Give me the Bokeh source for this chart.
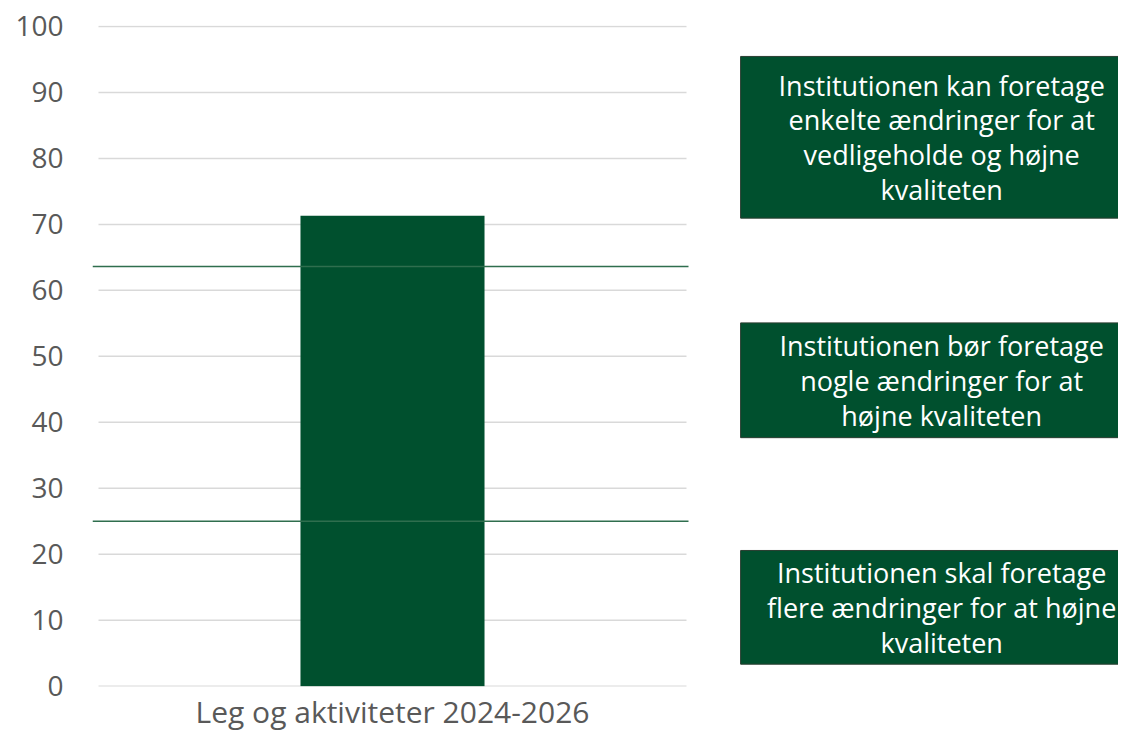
from bokeh.plotting import figure
from bokeh.models import Range1d, FixedTicker
from bokeh.core.properties import value
from bokeh.embed import file_html
from bokeh.resources import INLINE

# ---- data ----
categories = ["Leg og aktiviteter 2024-2026"]
scores = [71.3]
threshold_values = [25.0, 63.6]
y_ticks = [0, 10, 20, 30, 40, 50, 60, 70, 80, 90, 100]
zone_texts = [
    "Institutionen kan foretage\nenkelte ændringer for at\nvedligeholde og højne\nkvaliteten",
    "Institutionen bør foretage\nnogle ændringer for at\nhøjne kvaliteten",
    "Institutionen skal foretage\nflere ændringer for at højne\nkvaliteten",
]

# ---- layout constants (positions / styles) ----
GREEN = "#00502E"
FONT = "Open Sans"
box_bottoms = [70.95, 37.67, 3.33]
box_tops = [95.46, 55.07, 20.57]
box_left, box_right, text_x = 1.092, 1.80, 1.434
cat_x = [0.5]
bar_width = 0.313

p = figure(width=1118, height=734, output_backend="svg", toolbar_location=None,
           x_range=Range1d(-6 / 588, 1020 / 588), y_range=Range1d(-0.05, 100.15),
           min_border_left=92, min_border_right=0, min_border_top=25, min_border_bottom=48)
p.outline_line_color = None
p.xgrid.visible = False
p.ygrid.visible = False

# gridlines over the category area
p.segment(x0=[0] * len(y_ticks), x1=[1] * len(y_ticks), y0=y_ticks, y1=y_ticks,
          line_color="#D9D9D9", line_width=1.5)

# bar
p.vbar(x=cat_x, top=scores, width=bar_width, bottom=0, fill_color=GREEN, line_color=None)

# threshold lines
p.segment(x0=[-0.0102] * len(threshold_values), x1=[1.0034] * len(threshold_values),
          y0=threshold_values, y1=threshold_values, line_color="#2F6E4E", line_width=1.5)

# zone boxes
p.quad(left=[box_left] * 3, right=[box_right] * 3, bottom=box_bottoms, top=box_tops,
       fill_color=GREEN, line_color="#2A3D31", line_width=1)
centers = [(b + t) / 2 for b, t in zip(box_bottoms, box_tops)]
p.text(x=[text_x] * 3, y=centers, text=zone_texts, text_font=value(FONT),
       text_font_size="27px", text_color="white", text_align="center",
       text_baseline="middle", text_line_height=0.94)

# axes
p.yaxis.ticker = FixedTicker(ticks=y_ticks)
p.yaxis.axis_line_color = None
p.yaxis.major_tick_line_color = None
p.yaxis.minor_tick_line_color = None
p.yaxis.major_tick_out = 0
p.yaxis.minor_tick_out = 0
p.yaxis.major_label_standoff = 29
p.yaxis.major_label_text_font = FONT
p.yaxis.major_label_text_font_size = "28px"
p.yaxis.major_label_text_color = "#595959"

p.xaxis.ticker = FixedTicker(ticks=cat_x)
p.xaxis.major_label_overrides = {0.5: categories[0]}
p.xaxis.axis_line_color = None
p.xaxis.major_tick_line_color = None
p.xaxis.minor_tick_line_color = None
p.xaxis.major_tick_out = 0
p.xaxis.minor_tick_out = 0
p.xaxis.major_label_standoff = 4
p.xaxis.major_label_text_font = FONT
p.xaxis.major_label_text_font_size = "30px"
p.xaxis.major_label_text_color = "#595959"

open("out.html", "w").write(file_html(p, INLINE))
